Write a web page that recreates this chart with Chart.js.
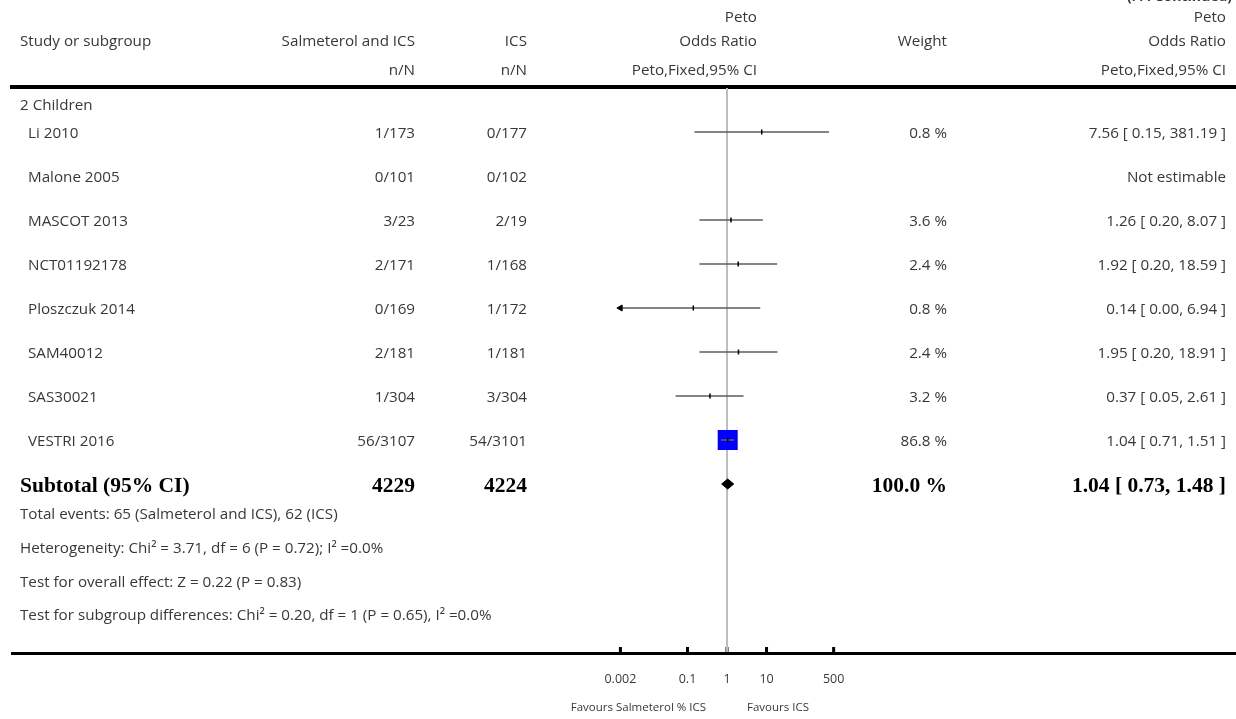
<!DOCTYPE html>
<html>
<head>
<meta charset="utf-8">
<script src="https://cdn.jsdelivr.net/npm/chart.js@4.4.1/dist/chart.umd.min.js"></script>
<style>
  html, body { margin: 0; padding: 0; background: #fff; }
  #wrap { width: 1236px; height: 719px; position: relative; }
</style>
</head>
<body>
<div id="wrap"><canvas id="forest" width="1236" height="719"></canvas></div>
<script>
// --- data (subgroup 2: Children) ---
const studies    = ['Li 2010', 'Malone 2005', 'MASCOT 2013', 'NCT01192178', 'Ploszczuk 2014', 'SAM40012', 'SAS30021', 'VESTRI 2016'];
const salmEvents = [1, 0, 3, 2, 0, 2, 1, 56];
const salmTotal  = [173, 101, 23, 171, 169, 181, 304, 3107];
const icsEvents  = [0, 0, 2, 1, 1, 1, 3, 54];
const icsTotal   = [177, 102, 19, 168, 172, 181, 304, 3101];
const weights    = [0.8, null, 3.6, 2.4, 0.8, 2.4, 3.2, 86.8];
const oddsRatio  = [7.56, null, 1.26, 1.92, 0.14, 1.95, 0.37, 1.04];
const ciLow      = [0.15, null, 0.20, 0.20, 0.00, 0.20, 0.05, 0.71];
const ciHigh     = [381.19, null, 8.07, 18.59, 6.94, 18.91, 2.61, 1.51];

const subtotalSalm = 4229;
const subtotalIcs  = 4224;
const subtotalWeight = 100.0;
const subtotalOR   = [1.04, 0.73, 1.48];   // estimate, low, high

const tickVals   = [0.002, 0.1, 1, 10, 500];
const tickLabels = ['0.002', '0.1', '1', '10', '500'];

const footerLines = [
  'Total events: 65 (Salmeterol and ICS), 62 (ICS)',
  'Heterogeneity: Chi\u00B2 = 3.71, df = 6 (P = 0.72); I\u00B2 =0.0%',
  'Test for overall effect: Z = 0.22 (P = 0.83)',
  'Test for subgroup differences: Chi\u00B2 = 0.20, df = 1 (P = 0.65), I\u00B2 =0.0%'
];

// --- layout constants ---
const FONT = "'Open Sans', 'Lato', sans-serif";
const SERIF = "'Liberation Serif', 'DejaVu Serif', serif";
const BODY = '15.2px ' + FONT;
const TXT = '#383838';
const DY = 2;   // baseline nudge for Open Sans
const AXIS_MIN = 0.00019, AXIS_MAX = 5250;
const Y_MIN = -1, Y_MAX = 11.818;
const SUB_ROW = 8;
const maxW = Math.max(...weights.filter(w => w != null));

const fmt2 = v => v.toFixed(2);

// CI segments, clipped to the lowest tick with an arrow
const ciDatasets = [];
const arrowPts = [];
studies.forEach((s, i) => {
  if (oddsRatio[i] == null) return;
  let lo = ciLow[i];
  if (lo < tickVals[0]) { lo = tickVals[0]; arrowPts.push({ x: lo, y: i }); }
  ciDatasets.push({
    data: [{ x: lo, y: i }, { x: ciHigh[i], y: i }],
    showLine: true, borderColor: '#5c5c5c', borderWidth: 1.6,
    pointRadius: 0, order: 3
  });
});

const estPts = [];
const estW = [];
studies.forEach((s, i) => {
  if (oddsRatio[i] == null) return;
  estPts.push({ x: oddsRatio[i], y: i });
  estW.push(weights[i]);
});

const dh = 0.114;
const diamond = [
  { x: subtotalOR[1], y: SUB_ROW },
  { x: subtotalOR[0], y: SUB_ROW - dh },
  { x: subtotalOR[2], y: SUB_ROW },
  { x: subtotalOR[0], y: SUB_ROW + dh },
  { x: subtotalOR[1], y: SUB_ROW }
];

const tablePlugin = {
  id: 'tablePlugin',
  beforeDatasetsDraw(chart) {
    const ctx = chart.ctx;
    const xs = chart.scales.x;
    ctx.save();
    ctx.fillStyle = '#000';
    ctx.fillRect(10, 85, 1226, 4);     // header rule
    ctx.fillRect(11, 652, 1225, 3);    // axis rule
    tickVals.forEach(v => {
      const px = xs.getPixelForValue(v);
      ctx.fillRect(px - 1.5, 647, 3, 5);
    });
    ctx.restore();
  },
  afterDraw(chart) {
    const ctx = chart.ctx;
    const ys = chart.scales.y;
    const xs = chart.scales.x;
    const put = (t, x, y, align, font) => {
      ctx.font = font || BODY;
      ctx.textAlign = align || 'left';
      ctx.fillText(t, x, y + DY);
    };
    ctx.save();
    ctx.fillStyle = TXT;
    ctx.textBaseline = 'middle';

    // header
    put('(. . . Continued)', 1232, -5, 'right', 'bold 14px ' + FONT);
    put('Study or subgroup', 20, 40);
    put('Salmeterol and ICS', 415, 40, 'right');
    put('ICS', 527, 40, 'right');
    put('Peto', 757, 16, 'right');
    put('Odds Ratio', 757, 40, 'right');
    put('Weight', 947, 40, 'right');
    put('Peto', 1226, 16, 'right');
    put('Odds Ratio', 1226, 40, 'right');
    put('n/N', 415, 69, 'right');
    put('n/N', 527, 69, 'right');
    put('Peto,Fixed,95% CI', 757, 69, 'right');
    put('Peto,Fixed,95% CI', 1226, 69, 'right');

    put('2 Children', 20, 104);

    studies.forEach((s, i) => {
      const y = ys.getPixelForValue(i);
      put(s, 28, y);
      put(salmEvents[i] + '/' + salmTotal[i], 415, y, 'right');
      put(icsEvents[i] + '/' + icsTotal[i], 527, y, 'right');
      if (oddsRatio[i] == null) {
        put('Not estimable', 1226, y, 'right');
      } else {
        put(weights[i].toFixed(1) + ' %', 947, y, 'right');
        put(fmt2(oddsRatio[i]) + ' [ ' + fmt2(ciLow[i]) + ', ' + fmt2(ciHigh[i]) + ' ]', 1226, y, 'right');
      }
    });

    // subtotal row
    const sy = ys.getPixelForValue(SUB_ROW);
    const bold = 'bold 21.5px ' + SERIF;
    ctx.fillStyle = '#000';
    put('Subtotal (95% CI)', 20, sy, 'left', bold);
    put(String(subtotalSalm), 415, sy, 'right', bold);
    put(String(subtotalIcs), 527, sy, 'right', bold);
    put(subtotalWeight.toFixed(1) + ' %', 947, sy, 'right', bold);
    put(fmt2(subtotalOR[0]) + ' [ ' + fmt2(subtotalOR[1]) + ', ' + fmt2(subtotalOR[2]) + ' ]', 1226, sy, 'right', bold);

    ctx.fillStyle = TXT;
    footerLines.forEach((t, k) => put(t, 20, 513 + k * 33.7));

    // favours labels around the null line
    const cx = xs.getPixelForValue(1);
    put('Favours Salmeterol % ICS', cx - 21, 706, 'right', '11.5px ' + FONT);
    put('Favours ICS', cx + 20, 706, 'left', '11.5px ' + FONT);
    ctx.restore();
  }
};

new Chart(document.getElementById('forest'), {
  type: 'scatter',
  data: {
    datasets: [
      {
        data: estPts, pointStyle: 'line', rotation: 90, pointRadius: 2.5,
        borderColor: '#000', borderWidth: 1.5, order: 1
      },
      {
        data: diamond, showLine: true, fill: 'shape',
        backgroundColor: '#000', borderColor: '#000', borderWidth: 1,
        pointRadius: 0, order: 2
      },
      {
        data: arrowPts, pointStyle: 'triangle', rotation: -90, pointRadius: 3.5,
        backgroundColor: '#000', borderColor: '#000', borderWidth: 1, order: 2
      },
      ...ciDatasets,
      {
        data: estPts, pointStyle: 'rect',
        pointRadius: ctx => 20 * (estW[ctx.dataIndex] / maxW) / Math.SQRT2,
        backgroundColor: '#0000ff', borderWidth: 0, order: 5
      },
      {
        data: [{ x: 1, y: Y_MIN }, { x: 1, y: Y_MAX }], showLine: true,
        borderColor: '#bdbdbd', borderWidth: 2, pointRadius: 0, order: 10
      }
    ]
  },
  options: {
    responsive: false,
    animation: false,
    events: [],
    layout: { padding: { left: 580, right: 362, top: 88, bottom: 0 } },
    plugins: { legend: { display: false }, tooltip: { enabled: false } },
    scales: {
      x: {
        type: 'logarithmic', min: AXIS_MIN, max: AXIS_MAX,
        afterFit: s => { s.height = 67; },
        afterBuildTicks: s => { s.ticks = tickVals.map(v => ({ value: v })); },
        ticks: {
          callback: (v, i) => tickLabels[i],
          font: { family: FONT, size: 12.5 }, color: TXT,
          padding: 20, autoSkip: false, maxRotation: 0
        },
        grid: { display: false, drawTicks: false },
        border: { display: false }
      },
      y: { type: 'linear', reverse: true, min: Y_MIN, max: Y_MAX, display: false }
    }
  },
  plugins: [tablePlugin]
});
</script>
</body>
</html>
